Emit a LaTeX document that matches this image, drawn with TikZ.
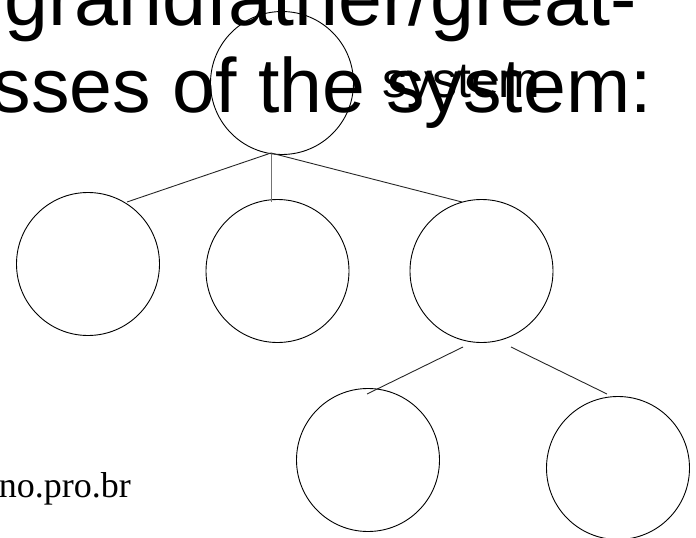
\documentclass[tikz,border=0pt]{standalone}
\usepackage{fontspec}
\setmainfont{Liberation Serif}
\newfontfamily\headfont{Liberation Sans}
\usetikzlibrary{calc}
\begin{document}
\begin{tikzpicture}[x=1pt,y=-1pt,
  klass/.style={circle,draw=black,line width=0.9pt,minimum size=143pt,inner sep=0pt},
  link/.style={draw=black!85,line width=0.9pt},
  headline/.style={font=\headfont\fontsize{77}{77}\selectfont,inner sep=0pt,anchor=base east},
  caption/.style={font=\headfont\fontsize{50}{50}\selectfont,inner sep=0pt,anchor=base west},
  credit/.style={font=\fontsize{36}{36}\selectfont,inner sep=0pt,anchor=base east}]
\useasboundingbox (0,0) rectangle (696,538);
\clip (0,0) rectangle (696,538);

% heading
\node[headline,font=\headfont\fontsize{79}{79}\selectfont] (h1) at (637,25) {grandfather/great-};
\node[headline] (h2) at (652,112) {sses of the system:};

% class tree
\node[klass] (top) at (282,83) {};
\node[caption] (lbl) at (382,97) {system};
\node[klass] (c1) at (88,264) {};
\node[klass] (c2) at (277.5,271) {};
\node[klass] (c3) at (481.5,271) {};
\node[klass] (c4) at (368,460) {};
\node[klass] (c5) at (618,468) {};

% connector ends
\coordinate (t0) at ($(top.center)+(-11,70)$);
\coordinate (e1) at ($(c1.center)+(39,-62)$);
\coordinate (e2) at ($(c2.center)+(-6.5,-69)$);
\coordinate (e3) at ($(c3.center)+(-19.5,-69)$);
\coordinate (s4) at ($(c3.center)+(-18.5,76)$);
\coordinate (e4) at ($(c4.center)+(-1,-66)$);
\coordinate (s5) at ($(c3.center)+(29.5,76)$);
\coordinate (e5) at ($(c5.center)+(-11,-74)$);

\draw[link] (t0) -- (e1);
\draw[link,draw=black!55] (t0) -- (e2);
\draw[link] (t0) -- (e3);
\draw[link] (s4) -- (e4);
\draw[link] (s5) -- (e5);

\node[credit] (web) at (131,497) {no.pro.br};
\end{tikzpicture}
\end{document}
